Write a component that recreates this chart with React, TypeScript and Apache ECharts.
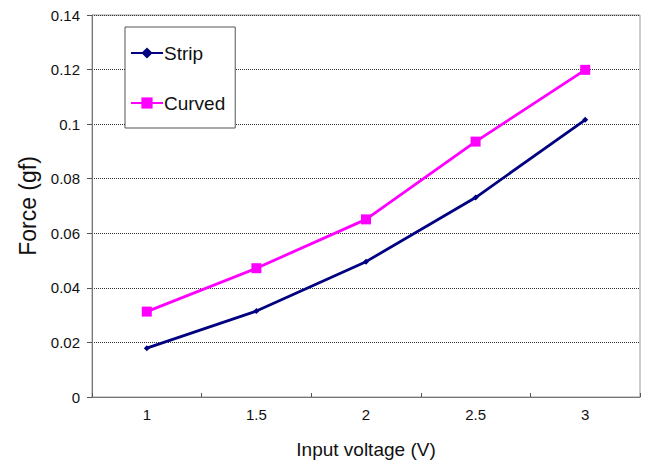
import React, { useEffect, useRef } from "react";
import * as echarts from "echarts";

const categories = ["1", "1.5", "2", "2.5", "3"];
const stripValues = [0.0179, 0.0315, 0.0496, 0.0731, 0.1016];
const curvedValues = [0.0313, 0.0472, 0.0651, 0.0936, 0.1199];
const yTicks = { min: 0, max: 0.14, interval: 0.02 };

const FONT = "'Liberation Sans', Arial, sans-serif";

export default function App() {
  const ref = useRef<HTMLDivElement>(null);
  useEffect(() => {
    if (!ref.current) return;
    const chart = echarts.init(ref.current, undefined, { renderer: "svg" });
    chart.setOption({
      animation: false,
      backgroundColor: "#ffffff",
      textStyle: { fontFamily: FONT },
      grid: {
        left: 92,
        right: 5,
        top: 15,
        bottom: 64,
        show: true,
        borderColor: "#999",
        borderWidth: 1,
      },
      legend: {
        orient: "vertical",
        left: 125,
        top: 27,
        padding: [16, 10, 15, 5],
        itemGap: 30,
        itemWidth: 32,
        itemHeight: 14,
        backgroundColor: "#fff",
        borderColor: "#555",
        borderWidth: 1,
        textStyle: {
          fontSize: 19,
          lineHeight: 20,
          color: "#111",
          fontFamily: FONT,
          padding: [0, 0, 0, -4],
        },
        data: ["Strip", "Curved"],
      },
      xAxis: {
        type: "category",
        data: categories,
        boundaryGap: true,
        name: "Input voltage (V)",
        nameLocation: "middle",
        nameGap: 43,
        nameTextStyle: { fontSize: 19, color: "#111", fontFamily: FONT },
        axisLine: { lineStyle: { color: "#777", width: 1 } },
        axisTick: { show: true, inside: true, length: 4, lineStyle: { color: "#555" } },
        axisLabel: { fontSize: 15, color: "#111", margin: 10, fontFamily: FONT },
        splitLine: { show: false },
      },
      yAxis: {
        type: "value",
        min: yTicks.min,
        max: yTicks.max,
        interval: yTicks.interval,
        name: "Force (gf)",
        nameLocation: "middle",
        nameRotate: 90,
        nameGap: 52,
        nameTextStyle: { fontSize: 23, color: "#111", fontFamily: FONT },
        axisLine: { show: true, lineStyle: { color: "#777", width: 1 } },
        axisTick: { show: true, inside: false, length: 5, lineStyle: { color: "#555" } },
        axisLabel: {
          fontSize: 15,
          color: "#111",
          margin: 12,
          fontFamily: FONT,
          formatter: (v: number) => (v === 0 ? "0" : String(Math.round(v * 100) / 100)),
        },
        splitLine: { show: true, lineStyle: { type: "dotted", color: "#333", width: 1 } },
      },
      series: [
        {
          name: "Strip",
          type: "line",
          data: stripValues,
          symbol: "diamond",
          symbolSize: 6,
          itemStyle: { color: "#000080" },
          lineStyle: { color: "#000080", width: 2.8 },
        },
        {
          name: "Curved",
          type: "line",
          data: curvedValues,
          symbol: "rect",
          symbolSize: 10,
          itemStyle: { color: "#ff00ff" },
          lineStyle: { color: "#ff00ff", width: 2.8 },
        },
      ],
    });
    return () => chart.dispose();
  }, []);
  return (
    <div
      ref={ref}
      style={{ position: "fixed", left: 0, top: 0, width: 645, height: 464 }}
    />
  );
}
